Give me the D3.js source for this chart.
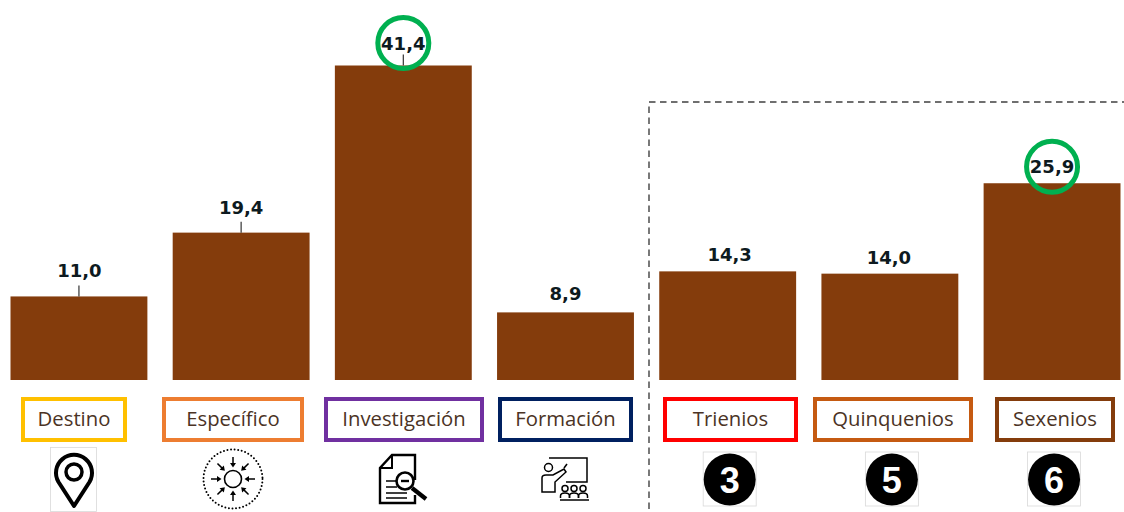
<!DOCTYPE html>
<html>
<head>
<meta charset="utf-8">
<script src="https://cdn.jsdelivr.net/npm/d3@7"></script>
<style>
  html, body { margin: 0; padding: 0; background: #fff; }
  svg { display: block; }
</style>
</head>
<body>
<div id="chart"></div>
<script>
var categories = ['Destino', 'Específico', 'Investigación', 'Formación', 'Trienios', 'Quinquenios', 'Sexenios'];
var values = [11.0, 19.4, 41.4, 8.9, 14.3, 14.0, 25.9];
var highlighted = ['Investigación', 'Sexenios'];
var numbered = { Trienios: '3', Quinquenios: '5', Sexenios: '6' };

// layout, one entry per category
var boxColors = ['#FFC000', '#ED7D31', '#7030A0', '#002060', '#FF0000', '#C55A11', '#843C0C'];
var boxLeft = [21, 162, 324, 498, 663, 813, 995];
var boxRight = [127, 304, 484, 633, 798, 973, 1115];
var labelGap = [19.5, 19, 16, 12, 10.5, 9.5, 10];
var labelShift = [0.5, 0, 0, 0, 2, -1, 0];
var hasLeader = [true, true, true, false, false, false, false];
var ringGap = { 'Investigación': 22.5, Sexenios: 16.5 };

var width = 1124, height = 512, baseline = 380;

var svg = d3.select('#chart').append('svg')
  .attr('width', width)
  .attr('height', height);

var x = d3.scaleBand().domain(categories).range([10.5, 1120.5]).paddingInner(0.156).paddingOuter(0);
var y = d3.scaleLinear().domain([0, 41.4]).range([baseline, 65.5]);
var format = function (v) { return v.toFixed(1).replace('.', ','); };
var mid = function (c) { return x(c) + x.bandwidth() / 2; };

// dashed bracket round the second group
svg.append('path')
  .attr('d', 'M649,509V102H1124')
  .attr('fill', 'none')
  .attr('stroke', '#404040')
  .attr('stroke-width', 1.4)
  .attr('stroke-dasharray', '6.5,4.5');

svg.selectAll('rect.bar').data(categories).enter().append('rect')
  .attr('class', 'bar')
  .attr('x', function (c) { return x(c); })
  .attr('width', x.bandwidth())
  .attr('y', function (c, i) { return y(values[i]); })
  .attr('height', function (c, i) { return baseline - y(values[i]); })
  .attr('fill', '#843C0C');

// leader ticks
svg.selectAll('line.leader').data(categories.filter(function (c, i) { return hasLeader[i]; })).enter().append('line')
  .attr('class', 'leader')
  .attr('x1', mid).attr('x2', mid)
  .attr('y1', function (c) { return y(values[categories.indexOf(c)]); })
  .attr('y2', function (c) { return y(values[categories.indexOf(c)]) - 11; })
  .attr('stroke', '#333')
  .attr('stroke-width', 1.2);

svg.selectAll('text.value').data(categories).enter().append('text')
  .attr('class', 'value')
  .attr('x', function (c, i) { return mid(c) + labelShift[i]; })
  .attr('y', function (c, i) { return y(values[i]) - labelGap[i]; })
  .attr('text-anchor', 'middle')
  .attr('font-family', 'DejaVu Sans')
  .attr('font-weight', 'bold')
  .attr('font-size', 18)
  .attr('fill', '#0d1a20')
  .text(function (c, i) { return format(values[i]); });

// green rings on the two largest of each group
svg.selectAll('circle.ring').data(highlighted).enter().append('circle')
  .attr('class', 'ring')
  .attr('cx', mid)
  .attr('cy', function (c) { return y(values[categories.indexOf(c)]) - ringGap[c]; })
  .attr('r', 25.5)
  .attr('fill', 'none')
  .attr('stroke', '#00B050')
  .attr('stroke-width', 5);

// category boxes
var boxes = svg.selectAll('g.box').data(categories).enter().append('g').attr('class', 'box');
boxes.append('rect')
  .attr('x', function (c, i) { return boxLeft[i] + 2; })
  .attr('y', 399)
  .attr('width', function (c, i) { return boxRight[i] - boxLeft[i] - 4; })
  .attr('height', 41)
  .attr('fill', '#fff')
  .attr('stroke', function (c, i) { return boxColors[i]; })
  .attr('stroke-width', 4);
boxes.append('text')
  .attr('x', function (c, i) { return (boxLeft[i] + boxRight[i]) / 2; })
  .attr('y', 426)
  .attr('text-anchor', 'middle')
  .attr('font-family', 'Open Sans')
  .attr('font-size', 20.3)
  .attr('fill', '#4b3325')
  .text(function (c) { return c; });

// icons
var ink = '#000';
var frame = function (x0, y0, w, h) {
  svg.append('rect').attr('x', x0).attr('y', y0).attr('width', w).attr('height', h)
    .attr('fill', '#fff').attr('stroke', '#d9d9d9').attr('stroke-width', 0.8);
};

// pin
frame(50.5, 447.5, 46, 64);
var pin = svg.append('g').attr('fill', 'none').attr('stroke', ink);
pin.append('path')
  .attr('d', 'M74,506 L58.5,482 A18,18 0 1 1 89.5,482 Z')
  .attr('stroke-width', 4).attr('stroke-linejoin', 'round');
pin.append('circle').attr('cx', 74).attr('cy', 472).attr('r', 8).attr('stroke-width', 3.5);

// inward arrows
var spec = svg.append('g').attr('transform', 'translate(233,479)');
spec.append('circle').attr('r', 29.5).attr('fill', 'none').attr('stroke', ink)
  .attr('stroke-width', 2).attr('stroke-linecap', 'round').attr('stroke-dasharray', '0,3.6');
spec.append('circle').attr('r', 8.5).attr('fill', 'none').attr('stroke', ink).attr('stroke-width', 1.6);
d3.range(8).forEach(function (i) {
  var a = spec.append('g').attr('transform', 'rotate(' + i * 45 + ')');
  a.append('line').attr('x1', 0).attr('x2', 0).attr('y1', -22).attr('y2', -15).attr('stroke', ink).attr('stroke-width', 1.5);
  a.append('path').attr('d', 'M-3,-16L3,-16L0,-11.5Z').attr('fill', ink);
});

// document with magnifier
var doc = svg.append('g').attr('fill', 'none').attr('stroke', ink).attr('stroke-width', 2.4);
doc.append('path').attr('d', 'M415,480V455H392L380,468V503H415V495');
doc.append('path').attr('d', 'M392,456V468H381').attr('stroke-width', 2);
doc.append('path').attr('d', 'M386,481H396M386,487H397M386,493H407M386,498H407').attr('stroke-width', 1.5);
doc.append('circle').attr('cx', 405).attr('cy', 481).attr('r', 8.5).attr('fill', '#fff').attr('stroke-width', 2.6);
doc.append('path').attr('d', 'M401,481H409').attr('stroke-width', 2.4);
doc.append('path').attr('d', 'M412,488L426,499').attr('stroke-width', 4.2);

// teacher and audience
var teach = svg.append('g').attr('fill', 'none').attr('stroke', ink).attr('stroke-width', 1.5);
teach.append('path').attr('d', 'M549,458H587V482H566');
teach.append('circle').attr('cx', 548.5).attr('cy', 467.5).attr('r', 4);
teach.append('path').attr('d', 'M542,492V478Q542,475 546,475H553L564,469L566,472L555,482V492Z');
teach.append('path').attr('d', 'M564,468L567,464');
[565, 574, 583].forEach(function (cx) {
  teach.append('circle').attr('cx', cx).attr('cy', 488.5).attr('r', 3);
  teach.append('path').attr('d', 'M' + (cx - 4.5) + ',498V496Q' + (cx - 4.5) + ',493 ' + cx + ',493Q' + (cx + 4.5) + ',493 ' + (cx + 4.5) + ',496V498');
});
teach.append('path').attr('d', 'M560,500H589');

// numbered discs
var discs = svg.selectAll('g.disc').data(Object.keys(numbered)).enter().append('g').attr('class', 'disc')
  .attr('transform', function (c) { return 'translate(' + (mid(c) + 2) + ',479.5)'; });
discs.append('rect').attr('x', -26.5).attr('y', -27.5).attr('width', 53).attr('height', 54)
  .attr('fill', '#fff').attr('stroke', '#d9d9d9').attr('stroke-width', 0.8);
discs.append('circle').attr('r', 26).attr('fill', '#000');
discs.append('text')
  .attr('text-anchor', 'middle')
  .attr('y', 13)
  .attr('font-family', 'Liberation Sans')
  .attr('font-weight', 'bold')
  .attr('font-size', 36)
  .attr('fill', '#fff')
  .text(function (c) { return numbered[c]; });
</script>
</body>
</html>
